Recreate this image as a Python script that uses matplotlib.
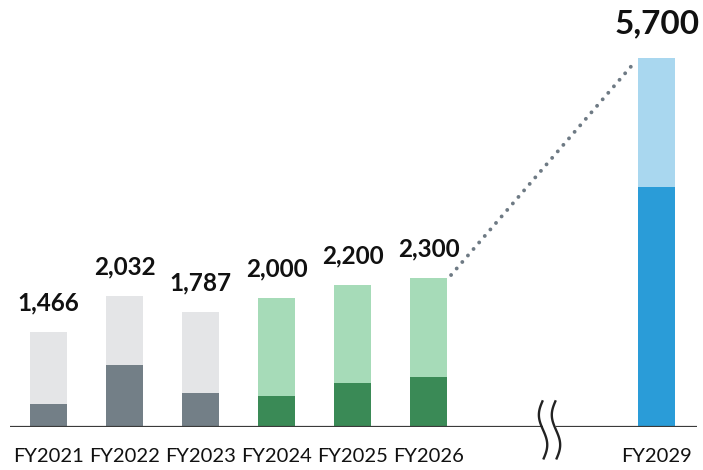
import matplotlib
matplotlib.use("Agg")
import matplotlib.pyplot as plt
import numpy as np

categories = ["FY2021", "FY2022", "FY2023", "FY2024", "FY2025", "FY2026", "FY2029"]
totals = [1466, 2032, 1787, 2000, 2200, 2300, 5700]
lower = [360, 966, 529, 483, 684, 781, 3708]
total_labels = ["1,466", "2,032", "1,787", "2,000", "2,200", "2,300", "5,700"]
positions = [0, 1, 2, 3, 4, 5, 8]

dark_colors = ["#737f87", "#737f87", "#737f87", "#3a8a56", "#3a8a56", "#3a8a56", "#2a9cd8"]
light_colors = ["#e4e5e7", "#e4e5e7", "#e4e5e7", "#a6dbb8", "#a6dbb8", "#a6dbb8", "#a9d7ef"]

plt.rcParams['font.family'] = ['Lato', 'DejaVu Sans']

W, H = 703, 470
fig = plt.figure(figsize=(W/100, H/100), dpi=100)
base_px = 427.3
ax = fig.add_axes([10/W, 1 - base_px/H, 687/W, base_px/H])
ax.set_xlim(-0.507, 8.53)
ax.set_ylim(0, base_px/0.0648)

bw = 0.49
upper = [t - l for t, l in zip(totals, lower)]
ax.bar(positions, lower, width=bw, color=dark_colors, zorder=2)
ax.bar(positions, upper, bottom=lower, width=bw, color=light_colors, zorder=2)

for i, (p, t, lab) in enumerate(zip(positions, totals, total_labels)):
    big = (i == len(positions) - 1)
    ax.text(p, t + (300 if big else 270), lab, ha='center', va='bottom',
            fontsize=24 if big else 17.5, fontweight='bold', color='#111111')

# dotted connector
x0 = positions[5] + bw/2 + 0.05
x1 = positions[6] - bw/2 - 0.04
ax.plot([x0, x1], [totals[5] + 50, totals[6] - 60], color='#6e7a84', lw=2.8,
        linestyle=(0, (0.01, 2.2)), dash_capstyle='round', solid_capstyle='round', zorder=3)

# baseline axis
ax.axhline(0, color='#3a3a3a', lw=1.6, zorder=4)

# break marker
bx = 6.59
ax.fill_between([bx - 0.09, bx + 0.09], -60, 60, color='white', zorder=5, lw=0)
t = np.linspace(-1, 1, 60)
for dx in (-0.085, 0.085):
    xs = bx + dx - 0.055 * np.sin(np.pi * t * 0.95)
    ys = t * 440
    ax.plot(xs, ys - 40, color='#222222', lw=1.7, clip_on=False, zorder=6)

ax.set_xticks(positions)
ax.set_xticklabels(categories, fontsize=14.5, color='#111111')
ax.tick_params(axis='x', length=0, pad=15)
ax.set_yticks([])
for s in ax.spines.values():
    s.set_visible(False)

fig.savefig("out.png", dpi=100)
